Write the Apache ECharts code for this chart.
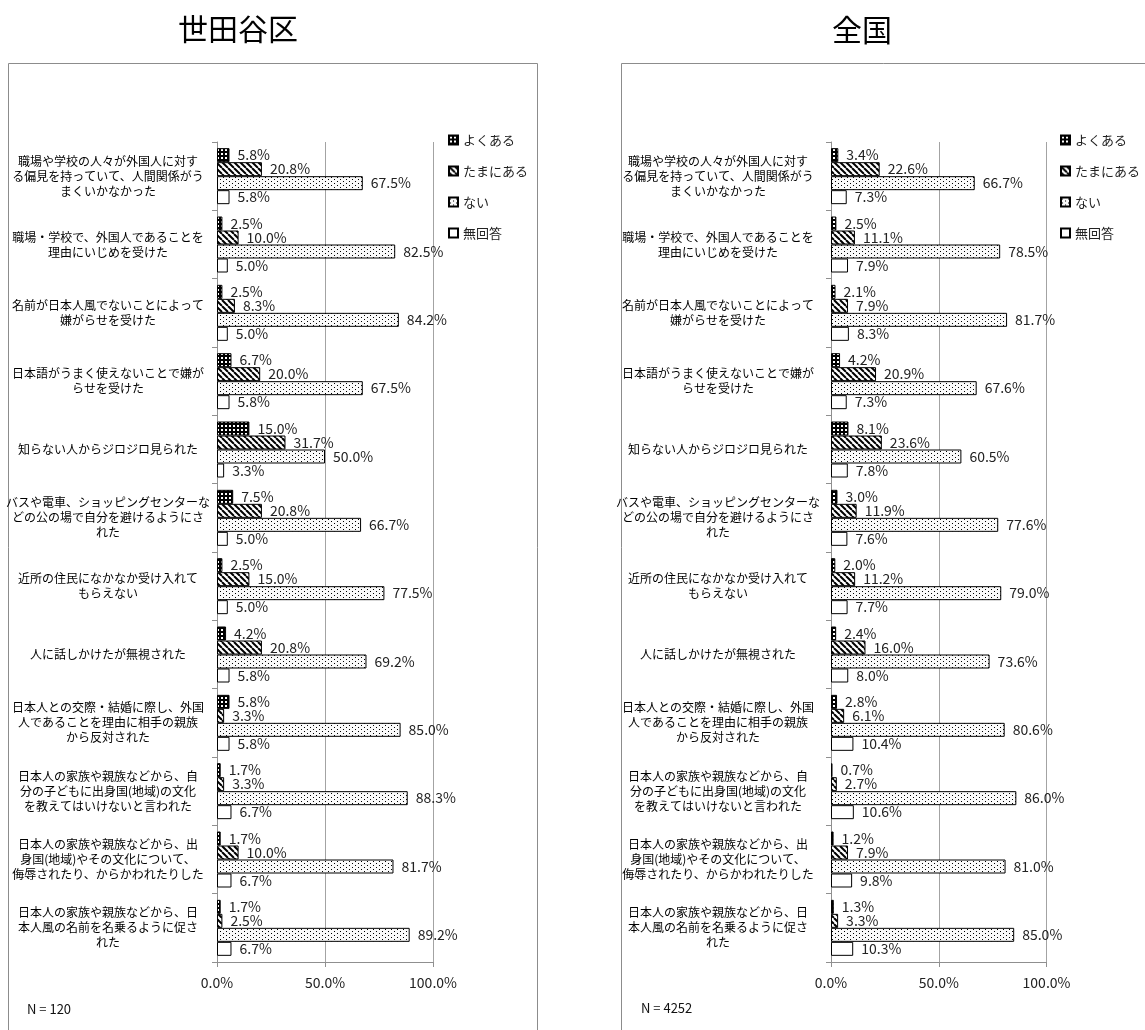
<!DOCTYPE html>
<html>
<head>
<meta charset="utf-8">
<script src="https://cdn.jsdelivr.net/npm/echarts@6/dist/echarts.min.js"></script>
<style>
html,body{margin:0;padding:0;background:#fff;}
#chart{width:1145px;height:1030px;}
</style>
</head>
<body>
<div id="chart"></div>
<script>
// ---------- data ----------
const categories = [
  '職場や学校の人々が外国人に対す\nる偏見を持っていて、人間関係がう\nまくいかなかった',
  '職場・学校で、外国人であることを\n理由にいじめを受けた',
  '名前が日本人風でないことによって\n嫌がらせを受けた',
  '日本語がうまく使えないことで嫌が\nらせを受けた',
  '知らない人からジロジロ見られた',
  'バスや電車、ショッピングセンターな\nどの公の場で自分を避けるようにさ\nれた',
  '近所の住民になかなか受け入れて\nもらえない',
  '人に話しかけたが無視された',
  '日本人との交際・結婚に際し、外国\n人であることを理由に相手の親族\nから反対された',
  '日本人の家族や親族などから、自\n分の子どもに出身国(地域)の文化\nを教えてはいけないと言われた',
  '日本人の家族や親族などから、出\n身国(地域)やその文化について、\n侮辱されたり、からかわれたりした',
  '日本人の家族や親族などから、日\n本人風の名前を名乗るように促さ\nれた'
];
const seriesNames = ['よくある', 'たまにある', 'ない', '無回答'];

const panelTitles = ['世田谷区', '全国'];
const panelN = ['N = 120', 'N = 4252'];

// 世田谷区
const setagayaOften     = [5.8, 2.5, 2.5, 6.7, 15.0, 7.5, 2.5, 4.2, 5.8, 1.7, 1.7, 1.7];
const setagayaSometimes = [20.8, 10.0, 8.3, 20.0, 31.7, 20.8, 15.0, 20.8, 3.3, 3.3, 10.0, 2.5];
const setagayaNever     = [67.5, 82.5, 84.2, 67.5, 50.0, 66.7, 77.5, 69.2, 85.0, 88.3, 81.7, 89.2];
const setagayaNoAnswer  = [5.8, 5.0, 5.0, 5.8, 3.3, 5.0, 5.0, 5.8, 5.8, 6.7, 6.7, 6.7];

// 全国
const zenkokuOften     = [3.4, 2.5, 2.1, 4.2, 8.1, 3.0, 2.0, 2.4, 2.8, 0.7, 1.2, 1.3];
const zenkokuSometimes = [22.6, 11.1, 7.9, 20.9, 23.6, 11.9, 11.2, 16.0, 6.1, 2.7, 7.9, 3.3];
const zenkokuNever     = [66.7, 78.5, 81.7, 67.6, 60.5, 77.6, 79.0, 73.6, 80.6, 86.0, 81.0, 85.0];
const zenkokuNoAnswer  = [7.3, 7.9, 8.3, 7.3, 7.8, 7.6, 7.7, 8.0, 10.4, 10.6, 9.8, 10.3];

const xTickMin = 0, xTickMax = 100, xTickStep = 50;

// ---------- patterns ----------
function tile(w, h, draw) {
  const c = document.createElement('canvas');
  c.width = w; c.height = h;
  const ctx = c.getContext('2d');
  draw(ctx);
  return { image: c, repeat: 'repeat' };
}
const patOften = tile(4, 4, ctx => {
  ctx.fillStyle = '#000'; ctx.fillRect(0, 0, 4, 4);
  ctx.fillStyle = '#fff'; ctx.fillRect(1, 1, 2, 2);
});
const patSometimes = tile(6, 6, ctx => {
  ctx.fillStyle = '#fff'; ctx.fillRect(0, 0, 6, 6);
  ctx.strokeStyle = '#000'; ctx.lineWidth = 2;
  for (const x0 of [-6, 0, 6]) {
    ctx.beginPath(); ctx.moveTo(x0, 0); ctx.lineTo(x0 + 6, 6); ctx.stroke();
  }
});
const patNever = tile(6, 4, ctx => {
  ctx.fillStyle = '#fafafa'; ctx.fillRect(0, 0, 6, 4);
  ctx.fillStyle = '#000';
  ctx.fillRect(1, 1, 1, 1);
  ctx.fillRect(4, 3, 1, 1);
});
const patNoAnswer = '#ffffff';
const fills = [patOften, patSometimes, patNever, patNoAnswer];

// ---------- option ----------
const FONT = '"Noto Sans CJK JP", "Noto Sans", sans-serif';
const gridColor = '#8f8f8f';

const panels = [
  [setagayaOften, setagayaSometimes, setagayaNever, setagayaNoAnswer],
  [zenkokuOften, zenkokuSometimes, zenkokuNever, zenkokuNoAnswer]
];

const series = [];
panels.forEach((arrs, gi) => {
  arrs.forEach((arr, si) => {
    series.push({
      type: 'bar',
      name: seriesNames[si],
      xAxisIndex: gi,
      yAxisIndex: gi,
      data: arr,
      barWidth: 14,
      barGap: '0%',
      itemStyle: { color: fills[si], borderColor: '#000', borderWidth: 1 },
      label: {
        show: true,
        position: 'right',
        distance: 8,
        formatter: p => p.value.toFixed(1) + '%',
        fontSize: 14,
        color: '#222',
        fontFamily: FONT
      },
      emphasis: { disabled: true }
    });
  });
});

const option = {
  animation: false,
  backgroundColor: '#fff',
  textStyle: { fontFamily: FONT },
  grid: [
    { left: 217, top: 142, width: 216, height: 820 },
    { left: 831, top: 142, width: 215.5, height: 820 }
  ],
  xAxis: [0, 1].map(i => ({
    gridIndex: i,
    type: 'value',
    min: xTickMin, max: xTickMax, interval: xTickStep,
    axisLine: { show: true, lineStyle: { color: gridColor } },
    axisTick: { show: true, length: 5, lineStyle: { color: gridColor } },
    splitLine: { show: true, lineStyle: { color: '#a3a3a3' } },
    axisLabel: { formatter: v => v.toFixed(1) + '%', fontSize: 14, color: '#222', margin: 14 }
  })),
  yAxis: [0, 1].map(i => ({
    gridIndex: i,
    type: 'category',
    inverse: true,
    data: categories,
    axisLine: { show: true, lineStyle: { color: gridColor } },
    axisTick: { show: true, length: 5, lineStyle: { color: gridColor } },
    axisLabel: {
      interval: 0, align: 'center', margin: i ? 113 : 109,
      fontSize: 12, lineHeight: 15, color: '#000'
    }
  })),
  legend: [443, 1055].map(x => ({
    left: x, top: 128, orient: 'vertical',
    icon: 'rect', itemWidth: 9, itemHeight: 9, itemGap: 17,
    textStyle: { fontSize: 13, lineHeight: 14, color: '#222' },
    data: seriesNames,
    selectedMode: false
  })),
  graphic: [
    { type: 'rect', silent: true, shape: { x: 8.5, y: 63.5, width: 529, height: 1000 },
      style: { fill: 'none', stroke: '#8c8c8c', lineWidth: 1 } },
    { type: 'rect', silent: true, shape: { x: 621.5, y: 63.5, width: 600, height: 1000 },
      style: { fill: 'none', stroke: '#8c8c8c', lineWidth: 1 } },
    { type: 'text', silent: true, x: 238, y: 29,
      style: { text: panelTitles[0], fontSize: 30, fontFamily: FONT, fill: '#000', align: 'center', verticalAlign: 'middle' } },
    { type: 'text', silent: true, x: 862, y: 30,
      style: { text: panelTitles[1], fontSize: 30, fontFamily: FONT, fill: '#000', align: 'center', verticalAlign: 'middle' } },
    { type: 'text', silent: true, x: 27, y: 1009,
      style: { text: panelN[0], fontSize: 13, fontFamily: FONT, fill: '#111', align: 'left', verticalAlign: 'middle' } },
    { type: 'text', silent: true, x: 641, y: 1008,
      style: { text: panelN[1], fontSize: 13, fontFamily: FONT, fill: '#111', align: 'left', verticalAlign: 'middle' } }
  ],
  series: series
};

const chart = echarts.init(document.getElementById('chart'), null, { renderer: 'canvas' });
chart.setOption(option);
</script>
</body>
</html>
